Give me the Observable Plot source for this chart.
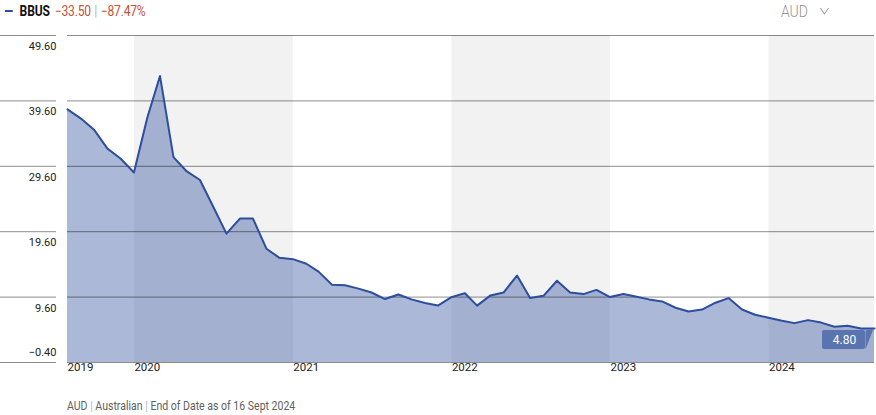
<!DOCTYPE html>
<html>
<head>
<meta charset="utf-8">
<script src="https://cdn.jsdelivr.net/npm/d3@7"></script>
<script src="https://cdn.jsdelivr.net/npm/@observablehq/plot@0.6"></script>
<style>
  body { margin: 0; background: #fff; font-family: Roboto, sans-serif; }
  #wrap { position: relative; width: 876px; height: 415px; overflow: hidden; }
  #header { position: absolute; left: 5px; top: 1px; height: 20px; display: flex; align-items: center;
            font-size: 14px; white-space: nowrap; transform: scaleX(0.86); transform-origin: left center; }
  #header .dash { display: inline-block; width: 9px; height: 2.5px; background: #2d4e9e; margin-right: 8px; }
  #header .name { font-weight: 700; color: #111; margin-right: 6px; letter-spacing: -0.2px; }
  #header .neg { color: #c8503a; letter-spacing: -0.2px; }
  #header .sep { color: #9fb6da; margin: 0 4px; }
  #cur { position: absolute; left: 781px; top: 0px; height: 22px; display: flex; align-items: center;
         font-size: 17px; color: #939393; font-weight: 300; transform: scaleX(0.82); transform-origin: left center; }
  #cur svg { margin-left: 14px; }
  #caption { position: absolute; left: 67px; top: 398px; font-size: 13px; color: #5f5f5f; white-space: nowrap;
             transform: scaleX(0.81); transform-origin: left center; }
  #caption .sep { color: #9fb6da; }
</style>
</head>
<body>
<div id="wrap">
  <div id="chart"></div>
  <div id="header"></div>
  <div id="cur">AUD<svg width="12" height="8" viewBox="0 0 12 8"><polyline points="1,1 6,7 11,1" fill="none" stroke="#939393" stroke-width="1.1"/></svg></div>
  <div id="caption"></div>
</div>
<script>
// ---- data (month-end closing values, AUD) ----
const ticker = "BBUS";
const startYear = 2019, startMonth = 7;            // first point: end of July 2019
const v2019 = [38.3, 36.9, 35.2, 32.3, 30.8, 28.65];  // Jul–Dec
const v2020 = [37.1, 43.4, 31.0, 28.85, 27.5, 23.5, 19.3, 21.6, 21.6, 17.0, 15.6, 15.4];
const v2021 = [14.7, 13.5, 11.5, 11.4, 10.9, 10.3, 9.3, 10.0, 9.25, 8.7, 8.3, 9.6];
const v2022 = [10.2, 8.3, 9.86, 10.3, 12.9, 9.45, 9.8, 12.1, 10.3, 10.06, 10.7, 9.6];
const v2023 = [10.06, 9.7, 9.25, 8.94, 7.97, 7.4, 7.7, 8.74, 9.45, 7.7, 6.9, 6.44];
const v2024 = [5.98, 5.62, 6.08, 5.7, 5.07, 5.22, 4.8, 4.8];  // Jan–Aug
const yTicks = [49.6, 39.6, 29.6, 19.6, 9.6, -0.4];
const yearLabels = ["2019", "2020", "2021", "2022", "2023", "2024"];
const shadedYears = [2020, 2022, 2024];
const captionParts = ["AUD", "Australian", "End of Date as of 16 Sept 2024"];

// ---- build table ----
const values = [...v2019, ...v2020, ...v2021, ...v2022, ...v2023, ...v2024];
const data = values.map((value, i) => {
  const mIndex = startMonth - 1 + i;                 // 0-based month index from Jan 2019
  const y = startYear + Math.floor(mIndex / 12);
  const m = mIndex % 12;
  return { date: new Date(Date.UTC(y, m + 1, 0)), value };
});
const first = data[0], last = data[data.length - 1];
const x0 = first.date, x1 = last.date;
const yMin = d3.min(yTicks), yMax = d3.max(yTicks);

const yearPos = yearLabels.map((t, i) => ({
  label: t,
  date: i === 0 ? x0 : new Date(Date.UTC(+t, 0, 1))
}));
const bands = shadedYears.map(y => ({
  x1: new Date(Date.UTC(y, 0, 1)),
  x2: new Date(Math.min(Date.UTC(y + 1, 0, 1), +x1))
}));

const fmt = d3.format(".2f");
const gridStroke = "#000", gridOpacity = 0.45;
const blue = "#2d4e9e";

const triangle = {
  draw(ctx) { ctx.moveTo(-9, 2); ctx.lineTo(-1, 0); ctx.lineTo(-9, 21); ctx.closePath(); }
};

const chart = Plot.plot({
  width: 876,
  height: 415,
  marginLeft: 67,
  marginRight: 2,
  marginTop: 35,
  marginBottom: 53,
  style: { fontFamily: "Roboto, sans-serif", fontSize: "11px", background: "transparent", overflow: "visible" },
  x: { type: "utc", domain: [x0, x1], axis: null },
  y: { domain: [yMin, yMax], axis: null },
  marks: [
    Plot.rect(bands, { x1: "x1", x2: "x2", fill: "#f2f2f2" }),
    Plot.areaY(data, { x: "date", y1: () => yMin, y2: "value", fill: blue, fillOpacity: 0.4 }),
    // gridlines across plot frame
    Plot.ruleY(yTicks, { stroke: gridStroke, strokeOpacity: gridOpacity }),
    // gridline segments under the y labels
    Plot.ruleY(yTicks, { stroke: gridStroke, strokeOpacity: gridOpacity, insetLeft: -67, insetRight: 818 }),
    Plot.line(data, { x: "date", y: "value", stroke: blue, strokeWidth: 2 }),
    // y labels (below gridline, last one above)
    Plot.text(yTicks.filter(d => d !== yMin), { y: d => d, text: d => fmt(d), frameAnchor: "left", textAnchor: "end",
      dx: -11, dy: 11, fill: "#222", fontSize: 11, style: "letter-spacing:-0.3px" }),
    Plot.text([yMin], { y: d => d, text: d => fmt(d), frameAnchor: "left", textAnchor: "end",
      dx: -11, dy: -10, fill: "#222", fontSize: 11 }),
    // x labels
    Plot.text(yearPos, { x: "date", text: "label", frameAnchor: "bottom", textAnchor: "start",
      dy: 8, fill: "#222", fontSize: 11.5 }),
    // end value label
    Plot.rect([last], { x1: "date", x2: "date", y1: "value", y2: "value",
      insetLeft: -52, insetRight: 9, insetTop: 2, insetBottom: -21, fill: "#5a74b0", rx: 2 }),
    Plot.dot([last], { x: "date", y: "value", symbol: triangle, fill: "#5a74b0", stroke: "none" }),
    Plot.text([last], { x: "date", y: "value", text: d => fmt(d.value), dx: -30, dy: 12,
      fill: "white", fontSize: 12 })
  ]
});
document.getElementById("chart").appendChild(chart);

// ---- header & caption ----
const change = last.value - first.value;
const pct = change / first.value * 100;
document.getElementById("header").innerHTML =
  `<span class="dash"></span><span class="name">${ticker}</span>` +
  `<span class="neg">${fmt(change)}</span><span class="sep">|</span><span class="neg">${fmt(pct)}%</span>`;
document.getElementById("caption").innerHTML =
  captionParts.join(' <span class="sep">|</span> ');
</script>
</body>
</html>
